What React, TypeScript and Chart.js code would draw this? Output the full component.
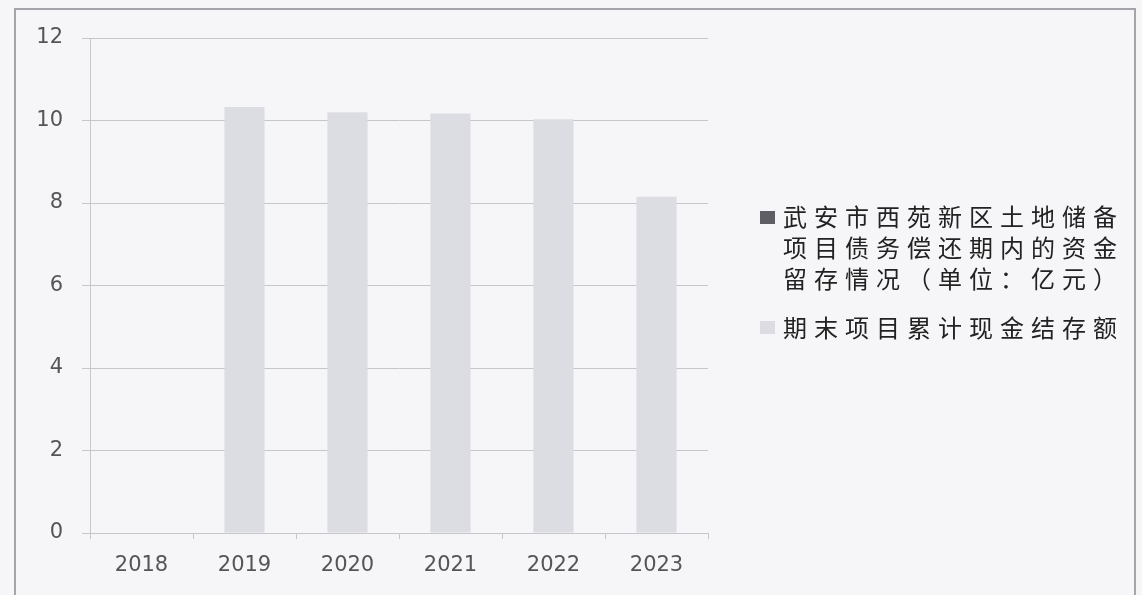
import React, { useEffect, useRef } from 'react';
import { Chart, registerables } from 'chart.js';

Chart.register(...registerables);

const categories = ['2018', '2019', '2020', '2021', '2022', '2023'];
const retentionSeries: (number | null)[] = [null, null, null, null, null, null];
const cashBalance: (number | null)[] = [null, 10.33, 10.2, 10.17, 10.03, 8.15];
const yMin = 0;
const yMax = 12;
const yStep = 2;
const retentionLabelLines = ['武安市西苑新区土地储备', '项目债务偿还期内的资金', '留存情况（单位：亿元）'];
const cashLabelLines = ['期末项目累计现金结存额'];

const BG = '#f6f6f8';
const GRID = '#c6c6cc';
const BAR = '#dcdce3';
const DARK = '#5e5e64';
const TEXT = '#555';

export default function App() {
  const ref = useRef<HTMLCanvasElement | null>(null);

  useEffect(() => {
    if (!ref.current) return;
    const chart = new Chart(ref.current, {
      type: 'bar',
      data: {
        labels: categories,
        datasets: [
          {
            label: retentionLabelLines.join(''),
            data: retentionSeries,
            backgroundColor: DARK,
            grouped: false,
            barPercentage: 0.39,
            categoryPercentage: 1,
          },
          {
            label: cashLabelLines.join(''),
            data: cashBalance,
            backgroundColor: BAR,
            grouped: false,
            barPercentage: 0.39,
            categoryPercentage: 1,
          },
        ],
      },
      options: {
        responsive: false,
        animation: false,
        layout: { padding: { left: 20, top: 38, right: 434, bottom: 10 } },
        plugins: { legend: { display: false }, tooltip: { enabled: false } },
        scales: {
          x: {
            offset: true,
            grid: { display: true, drawOnChartArea: false, drawTicks: true, tickLength: 6, color: GRID, offset: true },
            border: { display: true, color: GRID, width: 1 },
            ticks: { color: TEXT, padding: 14, maxRotation: 0, font: { family: '"DejaVu Sans"', size: 21 } },
            afterFit: (s: any) => { s.height = 52; s.paddingLeft = 0; s.paddingRight = 0; },
          },
          y: {
            min: yMin,
            max: yMax,
            ticks: { stepSize: yStep, color: TEXT, padding: 19, font: { family: '"DejaVu Sans"', size: 21 } },
            grid: { color: GRID, tickLength: 8, lineWidth: 1 },
            border: { display: true, color: GRID, width: 1 },
            afterFit: (s: any) => { s.width = 70; s.paddingTop = 0; s.paddingBottom = 0; },
          },
        },
      },
    });
    return () => chart.destroy();
  }, []);

  const textStyle: React.CSSProperties = {
    fontFamily: '"Noto Sans CJK SC", sans-serif',
    fontSize: 24,
    letterSpacing: 7,
    lineHeight: '31px',
    color: '#222',
    whiteSpace: 'nowrap',
  };

  return (
    <div style={{ position: 'absolute', left: 0, top: 0, width: 1142, height: 595, background: BG, overflow: 'hidden' }}>
      <div style={{ position: 'absolute', left: 14, top: 8, width: 1122, height: 600, border: '2px solid #a4a4aa', boxSizing: 'border-box' }} />
      <canvas ref={ref} width={1142} height={595} style={{ position: 'absolute', left: 0, top: 0 }} />
      <div style={{ position: 'absolute', left: 760, top: 211, width: 15, height: 13, background: DARK }} />
      <div style={{ position: 'absolute', left: 783, top: 200, ...textStyle }}>
        {retentionLabelLines.map((l) => (<div key={l}>{l}</div>))}
      </div>
      <div style={{ position: 'absolute', left: 760, top: 321, width: 15, height: 13, background: BAR }} />
      <div style={{ position: 'absolute', left: 783, top: 311, ...textStyle }}>
        {cashLabelLines.map((l) => (<div key={l}>{l}</div>))}
      </div>
    </div>
  );
}
